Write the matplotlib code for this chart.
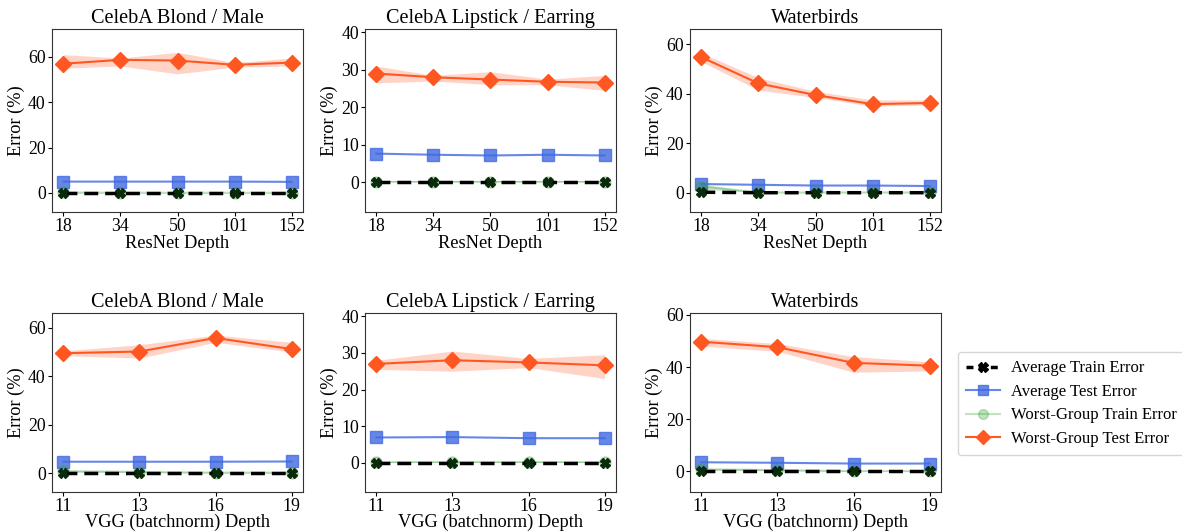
import matplotlib
matplotlib.use("Agg")
import matplotlib.pyplot as plt
import numpy as np

plt.rcParams['font.family'] = ['Liberation Serif', 'DejaVu Serif']
plt.rcParams['mathtext.fontset'] = 'stix'

# ---------------------------------------------------------------- data
resnet_depths = ['18', '34', '50', '101', '152']
vgg_depths = ['11', '13', '16', '19']
titles = ['CelebA Blond / Male', 'CelebA Lipstick / Earring', 'Waterbirds']

# ResNet row
rn_avg_train = [[0, 0, 0, 0, 0], [0, 0, 0, 0, 0], [0.2, 0, 0, 0, 0]]
rn_avg_test = [[5.0, 5.0, 5.0, 5.0, 4.9], [7.6, 7.3, 7.1, 7.3, 7.1], [3.5, 3.2, 2.9, 2.9, 2.7]]
rn_wg_train = [[0.2, 0.1, 0.1, 0.1, 0.1], [0.1, 0.1, 0.1, 0.1, 0.1], [2.5, 0.1, 0.1, 0.1, 0.1]]
rn_wg_train_lo = [[0, 0, 0, 0, 0], [0, 0, 0, 0, 0], [1.5, 0, 0, 0, 0]]
rn_wg_train_hi = [[0.4, 0.2, 0.2, 0.2, 0.2], [0.2, 0.2, 0.2, 0.2, 0.2], [3.5, 0.2, 0.2, 0.2, 0.2]]
rn_wg_test = [[57.0, 58.7, 58.4, 56.5, 57.5], [29.0, 28.0, 27.4, 26.8, 26.6], [54.8, 44.2, 39.5, 35.8, 36.3]]
rn_wg_test_lo = [[55.0, 56.0, 52.5, 55.5, 56.0], [26.5, 27.0, 26.0, 26.0, 24.5], [53.0, 41.5, 38.5, 35.0, 35.5]]
rn_wg_test_hi = [[61.0, 59.5, 62.0, 57.5, 59.5], [31.0, 28.5, 29.5, 27.5, 28.5], [56.5, 46.5, 41.0, 37.5, 37.5]]
rn_ylim = [(-8.4, 72.3), (-8.0, 40.9), (-7.8, 66.2)]

# VGG row
vg_avg_train = [[0, 0, 0, 0], [0, 0, 0, 0], [0, 0, 0, 0]]
vg_avg_test = [[4.7, 4.7, 4.7, 4.8], [6.9, 7.0, 6.7, 6.7], [3.5, 3.3, 3.0, 3.0]]
vg_wg_train = [[0.8, 0.5, 0.2, 0.2], [0.1, 0.1, 0.1, 0.1], [0.8, 0.5, 0.1, 0.1]]
vg_wg_train_lo = [[0.4, 0.2, 0, 0], [0, 0, 0, 0], [0.4, 0.2, 0, 0]]
vg_wg_train_hi = [[1.2, 0.8, 0.4, 0.4], [0.2, 0.2, 0.2, 0.2], [1.2, 0.8, 0.2, 0.2]]
vg_wg_test = [[49.5, 50.2, 55.8, 51.2], [27.0, 28.0, 27.4, 26.6], [49.7, 47.6, 41.6, 40.5]]
vg_wg_test_lo = [[48.5, 47.5, 54.0, 50.0], [25.5, 25.0, 26.0, 23.0], [48.0, 46.0, 38.0, 38.5]]
vg_wg_test_hi = [[50.5, 53.0, 57.0, 54.0], [28.0, 30.5, 28.5, 29.5], [51.0, 49.0, 44.0, 42.0]]
vg_ylim = [(-7.8, 66.1), (-8.0, 40.9), (-7.9, 60.7)]

# ---------------------------------------------------------------- plot
fig = plt.figure(figsize=(11.82, 5.31), dpi=100)
W, H = 1182, 531
lefts = [52, 365, 690]

def panel(ax, labels, avg_tr, avg_te, wg_tr, wg_tr_lo, wg_tr_hi, wg_te, wg_te_lo, wg_te_hi, title, xlabel, ylim, lpad):
    x = np.arange(len(labels))
    ax.fill_between(x, wg_te_lo, wg_te_hi, color='#ff5722', alpha=0.25, lw=0)
    ax.fill_between(x, wg_tr_lo, wg_tr_hi, color='#2ca02c', alpha=0.25, lw=0)
    ax.plot(x, wg_te, color='#ff5722', marker='D', ms=8.5, lw=1.5)
    ax.plot(x, avg_te, color='royalblue', marker='s', ms=8, lw=1.5, alpha=0.8)
    ax.plot(x, wg_tr, color='#2ca02c', marker='o', ms=8, lw=1.5, alpha=0.3)
    ax.plot(x, avg_tr, color='black', marker='X', ms=7, lw=2.5, ls='--',
            dashes=(4, 2), mfc='#0b2a0b', mec='#0b2a0b')
    ax.set_xticks(x)
    ax.set_xticklabels(labels)
    ax.set_ylim(*ylim)
    ax.set_title(title, fontsize=14.6, pad=4)
    ax.set_xlabel(xlabel, fontsize=13.2, labelpad=lpad)
    ax.set_ylabel('Error (%)', fontsize=13.2, labelpad=2)
    ax.tick_params(labelsize=12.8, length=3, pad=1.5)
    for s in ax.spines.values():
        s.set_color('#333333')

for i in range(3):
    ax = fig.add_axes([lefts[i] / W, 1 - 212 / H, 251 / W, 183 / H])
    panel(ax, resnet_depths, rn_avg_train[i], rn_avg_test[i], rn_wg_train[i],
          rn_wg_train_lo[i], rn_wg_train_hi[i], rn_wg_test[i], rn_wg_test_lo[i],
          rn_wg_test_hi[i], titles[i], 'ResNet Depth', rn_ylim[i], 0)
    ax = fig.add_axes([lefts[i] / W, 1 - 492 / H, 251 / W, 179 / H])
    panel(ax, vgg_depths, vg_avg_train[i], vg_avg_test[i], vg_wg_train[i],
          vg_wg_train_lo[i], vg_wg_train_hi[i], vg_wg_test[i], vg_wg_test_lo[i],
          vg_wg_test_hi[i], titles[i], 'VGG (batchnorm) Depth', vg_ylim[i], -1)

handles = [
    plt.Line2D([], [], color='black', ls='--', lw=2.5, dashes=(2, 1.5), marker='X', ms=7),
    plt.Line2D([], [], color='royalblue', marker='s', ms=7, lw=1.5, alpha=0.8),
    plt.Line2D([], [], color='#2ca02c', marker='o', ms=7, lw=1.5, alpha=0.3),
    plt.Line2D([], [], color='#ff5722', marker='D', ms=7, lw=1.5),
]
names = ['Average Train Error', 'Average Test Error', 'Worst-Group Train Error', 'Worst-Group Test Error']
fig.legend(handles, names, loc='upper left', bbox_to_anchor=(958 / W, 1 - 352 / H),
           fontsize=12, frameon=True, borderaxespad=0, handlelength=2.0,
           handletextpad=0.7, labelspacing=0.45, borderpad=0.5)

fig.savefig('out.png', dpi=100)
